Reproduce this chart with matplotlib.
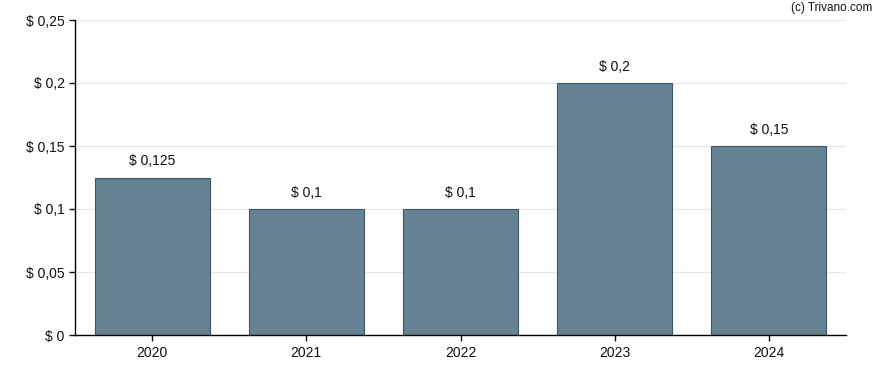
import matplotlib
matplotlib.use('Agg')
from matplotlib import pyplot as plt

years = ['2020', '2021', '2022', '2023', '2024']
dividends = [0.125, 0.1, 0.1, 0.2, 0.15]
bar_labels = ['$ 0,125', '$ 0,1', '$ 0,1', '$ 0,2', '$ 0,15']
y_ticks = [0, 0.05, 0.1, 0.15, 0.2, 0.25]
y_tick_labels = ['$ 0', '$ 0,05', '$ 0,1', '$ 0,15', '$ 0,2', '$ 0,25']

plt.rcParams['font.family'] = ['Liberation Sans', 'DejaVu Sans']

fig = plt.figure(dpi=100, figsize=(8.88, 3.70))
ax = fig.add_axes([75 / 888, 35 / 370, 771 / 888, 315 / 370])

x = range(len(years))
ax.bar(x, dividends, width=0.745, color='#668394', edgecolor='#3f5565', linewidth=0.8, zorder=2)
for i, v in enumerate(dividends):
    ax.text(i, v + 0.0075, bar_labels[i], ha='center', va='bottom', fontsize=10, color='#111111')

ax.set_xlim(-0.5, 4.5)
ax.set_ylim(0, 0.25)
ax.set_xticks(list(x))
ax.set_xticklabels(years)
ax.set_yticks(y_ticks)
ax.set_yticklabels(y_tick_labels)
ax.tick_params(axis='both', labelsize=10, colors='#111111', length=4, width=1)
ax.tick_params(axis='x', pad=4)
ax.grid(axis='y', color='#e6e6e6', linewidth=0.8, zorder=0)
for side in ['top', 'right']:
    ax.spines[side].set_visible(False)
for side in ['left', 'bottom']:
    ax.spines[side].set_color('black')
    ax.spines[side].set_linewidth(1)

fig.text(872 / 888, 1 - 8 / 370, '(c) Trivano.com', ha='right', va='center', fontsize=8.5, color='#111111')

fig.savefig('out.png', dpi=100)
